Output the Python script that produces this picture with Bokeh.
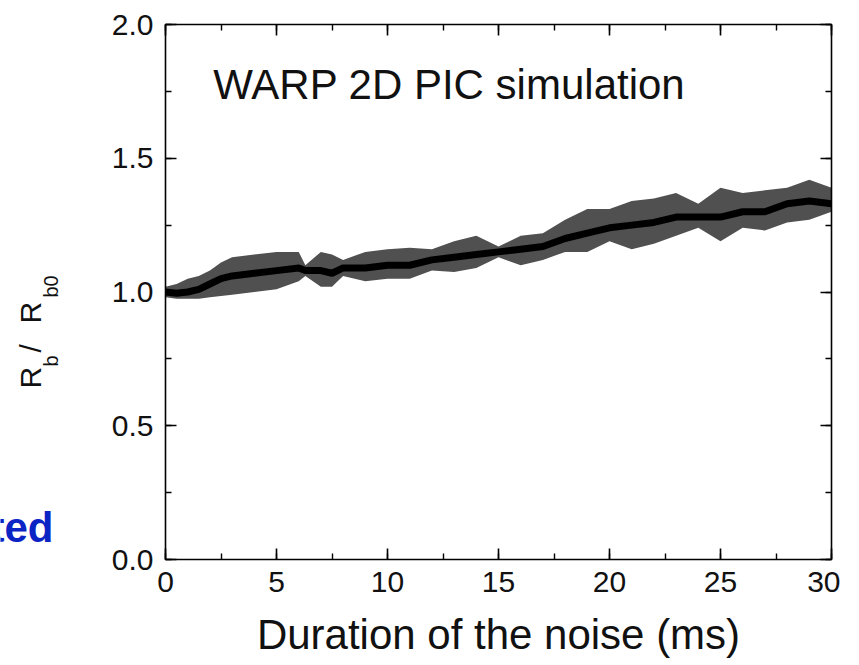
from bokeh.plotting import figure
from bokeh.layouts import row
from bokeh.models import (Range1d, LinearAxis, SingleIntervalTicker, NumeralTickFormatter,
                          ColumnDataSource)
from bokeh.core.properties import value
from bokeh.embed import file_html
from bokeh.resources import INLINE
import math

# ---- data (time in ms, R_b/R_b0 band) ----
t_ms = [0, 0.5, 1, 1.5, 2, 2.5, 3, 4, 5, 6, 6.3, 7, 7.5, 8, 9, 10, 11, 12, 13, 14, 15,
        16, 17, 18, 19, 20, 21, 22, 23, 24, 25, 26, 27, 28, 29, 30]
r_low = [0.98, 0.975, 0.975, 0.975, 0.98, 0.985, 0.99, 1.00, 1.01, 1.04, 1.06, 1.02, 1.02, 1.06,
         1.04, 1.05, 1.05, 1.08, 1.075, 1.09, 1.13, 1.10, 1.12, 1.15, 1.15, 1.19, 1.16, 1.18,
         1.21, 1.24, 1.19, 1.24, 1.23, 1.26, 1.27, 1.30]
r_mid = [1.00, 0.995, 1.00, 1.01, 1.03, 1.05, 1.06, 1.07, 1.08, 1.09, 1.08, 1.08, 1.07, 1.09,
         1.09, 1.10, 1.10, 1.12, 1.13, 1.14, 1.15, 1.16, 1.17, 1.20, 1.22, 1.24, 1.25, 1.26,
         1.28, 1.28, 1.28, 1.30, 1.30, 1.33, 1.34, 1.33]
r_high = [1.02, 1.03, 1.05, 1.06, 1.08, 1.11, 1.13, 1.14, 1.15, 1.15, 1.10, 1.15, 1.14, 1.12,
          1.15, 1.16, 1.165, 1.16, 1.19, 1.21, 1.17, 1.21, 1.22, 1.27, 1.31, 1.31, 1.34, 1.35,
          1.37, 1.33, 1.39, 1.37, 1.38, 1.39, 1.42, 1.39]

title_text = "WARP 2D PIC simulation"
xlabel_text = "Duration of the noise (ms)"
side_text = "ted"
ylabel_parts = ["R", "b", "/", "R", "b0"]

FONT = "Liberation Sans"
TXT = "#111111"

H = 665
SIDE_W = 80
MAIN_W = 760
L, FRAME_R, T, B = 165, 831, 24, 106

# ---------- left strip: y label and the clipped blue word ----------
# the row aligns this strip's frame with the chart frame (canvas y 24..559),
# so its y range is expressed as (H - canvas_y) over that span
s = figure(width=SIDE_W, height=H, output_backend="svg", toolbar_location=None,
           x_range=Range1d(0, SIDE_W), y_range=Range1d(B, H - T),
           x_axis_location=None, y_axis_location=None,
           min_border_left=0, min_border_right=0, min_border_top=T, min_border_bottom=B,
           background_fill_color="white", border_fill_color="white")
s.grid.visible = False
s.outline_line_color = None

rot = math.pi / 2
# canvas-pixel anchors of the rotated label pieces
yl_x = [30, 50, 30, 30, 50]
yl_y = [388, 366, 352, 323, 297]
yl_size = ["30px", "20px", "30px", "30px", "20px"]
for i, part in enumerate(ylabel_parts):
    s.text(x=[yl_x[i]], y=[H - yl_y[i]], text=[part], angle=rot,
           text_font=value(FONT), text_font_size=value(yl_size[i]), text_color=TXT,
           text_align="left", text_baseline="alphabetic")

s.text(x=[53], y=[H - 527], text=[side_text], text_font=value(FONT),
       text_font_size=value("42px"), text_font_style="bold", text_color="#0b24c4",
       text_align="right", text_baseline="alphabetic")

# ---------- main chart ----------
p = figure(width=MAIN_W, height=H, output_backend="svg", toolbar_location=None,
           x_range=Range1d(0, 30), y_range=Range1d(0, 2),
           min_border_left=L - SIDE_W, min_border_right=SIDE_W + MAIN_W - FRAME_R,
           min_border_top=T, min_border_bottom=B,
           background_fill_color="white", border_fill_color="white")
p.grid.visible = False
p.outline_line_color = None

src = ColumnDataSource(dict(t=t_ms, lo=r_low, mid=r_mid, hi=r_high))
p.varea(x="t", y1="lo", y2="hi", source=src, fill_color="#505050")
p.line(x="t", y="mid", source=src, line_color="black", line_width=7)


def style_axis(ax, show_labels):
    ax.axis_line_color = "black"
    ax.axis_line_width = 1.6
    ax.major_tick_line_color = "black"
    ax.minor_tick_line_color = "black"
    ax.major_tick_line_width = 1.6
    ax.minor_tick_line_width = 1.4
    ax.major_tick_in = 11
    ax.major_tick_out = 0
    ax.minor_tick_in = 6
    ax.minor_tick_out = 0
    ax.major_label_text_font = FONT
    if show_labels:
        ax.major_label_text_font_size = "30px"
        ax.major_label_text_color = TXT
        ax.major_label_standoff = 12
    else:
        ax.major_label_text_font_size = "0px"
        ax.major_label_text_color = None
        ax.major_label_standoff = 0


p.xaxis.ticker = SingleIntervalTicker(interval=5, num_minor_ticks=2)
p.yaxis.ticker = SingleIntervalTicker(interval=0.5, num_minor_ticks=2)
p.xaxis.formatter = NumeralTickFormatter(format="0")
p.yaxis.formatter = NumeralTickFormatter(format="0.0")
style_axis(p.xaxis[0], True)
style_axis(p.yaxis[0], True)

p.xaxis.axis_label = xlabel_text
p.xaxis.axis_label_text_font = FONT
p.xaxis.axis_label_text_font_size = "42px"
p.xaxis.axis_label_text_font_style = "normal"
p.xaxis.axis_label_text_color = TXT
p.xaxis.axis_label_standoff = 16

top = LinearAxis(ticker=SingleIntervalTicker(interval=5, num_minor_ticks=2))
right = LinearAxis(ticker=SingleIntervalTicker(interval=0.5, num_minor_ticks=2))
style_axis(top, False)
style_axis(right, False)
p.add_layout(top, "above")
p.add_layout(right, "right")

# title inside the frame, positioned in data units
p.text(x=[2.15], y=[1.775], text=[title_text], text_font=value(FONT),
       text_font_size=value("42px"), text_color=TXT,
       text_align="left", text_baseline="alphabetic")

layout = row(s, p, spacing=0)
open("out.html", "w").write(file_html(layout, INLINE))
